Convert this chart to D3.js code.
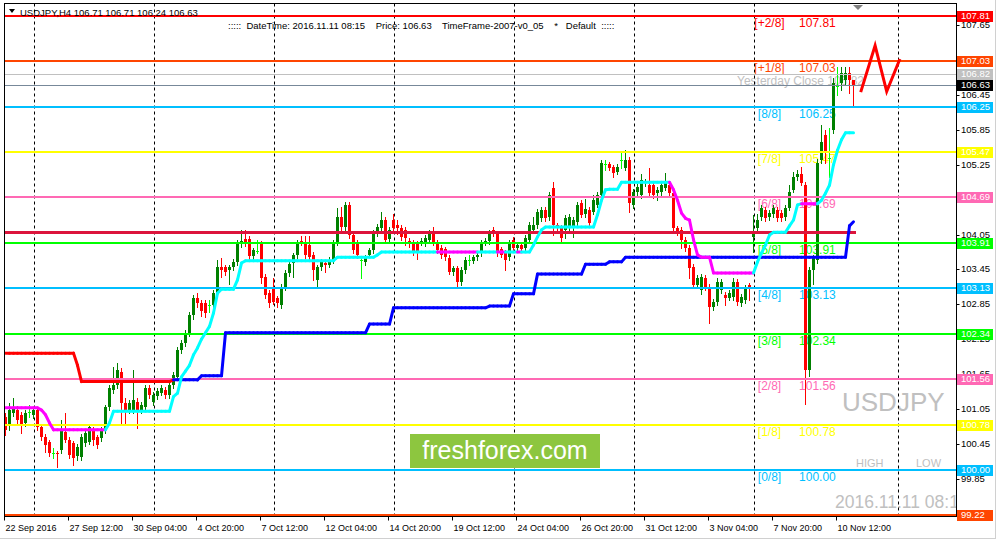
<!DOCTYPE html>
<html><head><meta charset="utf-8">
<script src="https://cdn.jsdelivr.net/npm/d3@7"></script>
<style>body{margin:0;background:#fff;} svg{display:block;font-family:"Liberation Sans",Arial,sans-serif;}</style>
</head><body><svg id="c" width="997" height="541"></svg>
<script>
// ---------- DATA ----------
const opens = [100.91,100.77,100.98,101.03,100.95,100.81,100.99,100.95,101.03,100.74,100.57,100.48,100.29,100.29,100.34,100.65,100.52,100.46,100.24,100.22,100.46,100.48,100.69,100.57,100.55,100.69,101.08,101.38,101.46,101.69,101.15,101.03,101.03,101.17,101.03,101.08,101.41,101.17,101.27,101.33,101.38,101.29,101.46,101.60,102.06,102.19,102.36,102.67,102.96,102.87,102.87,102.84,102.84,103.05,103.49,103.49,103.44,103.49,103.58,103.91,103.98,103.98,103.68,103.77,103.89,103.32,103.05,103.15,102.96,102.84,103.15,103.39,103.56,103.70,103.94,103.92,103.87,103.70,103.27,103.49,103.56,103.53,103.61,103.91,104.35,104.18,104.56,104.04,103.91,103.61,103.58,103.70,103.78,104.08,104.16,104.30,103.97,104.30,104.21,104.16,104.13,103.94,103.91,103.90,103.91,103.91,103.96,104.08,103.91,103.82,103.80,103.65,103.41,103.47,103.23,103.44,103.61,103.60,103.66,103.73,103.91,103.94,104.13,104.08,103.80,103.75,103.66,103.96,103.82,103.87,103.82,103.96,104.13,104.21,104.33,104.47,104.35,104.85,104.21,104.16,104.13,104.18,104.18,104.27,104.59,104.40,104.47,104.44,104.56,104.73,105.26,105.26,105.21,105.13,105.33,105.20,105.33,104.56,104.78,104.73,104.93,104.90,104.90,104.76,104.78,104.85,104.90,104.76,104.16,104.13,103.96,103.82,103.49,103.18,103.10,103.30,103.15,102.80,102.89,103.10,103.01,102.96,102.98,103.24,102.87,102.92,103.18,104.01,104.16,104.35,104.47,104.35,104.40,104.47,104.42,104.35,104.51,104.82,105.04,105.09,104.90,101.72,103.44,103.61,105.33,105.76,105.36,105.85,106.60,106.66,106.71,106.83,106.71];
const highs = [100.98,101.15,101.24,101.10,101.00,101.03,101.12,101.08,101.08,100.77,100.62,100.52,100.38,100.33,100.86,100.98,100.57,100.50,100.45,100.62,100.70,100.79,100.74,100.60,100.74,101.12,101.46,101.77,101.84,101.75,101.24,101.20,101.72,101.24,101.17,101.46,101.46,101.34,101.41,101.46,101.43,101.51,101.69,102.12,102.24,102.41,102.72,103.01,103.05,102.92,102.92,102.92,103.10,103.61,103.65,103.53,103.53,103.63,103.96,104.13,104.13,104.03,103.82,103.96,103.94,103.37,103.10,103.30,103.00,103.20,103.44,103.58,103.73,103.96,104.03,104.03,104.03,103.75,103.53,103.63,103.61,103.66,103.96,104.51,104.52,104.61,104.61,104.09,103.96,103.66,103.70,103.82,104.13,104.23,104.44,104.35,104.18,104.40,104.30,104.21,104.18,103.99,103.96,103.94,103.99,104.04,104.13,104.18,103.96,103.87,103.84,103.70,103.51,103.51,103.49,103.66,103.70,103.70,103.75,103.96,103.99,104.13,104.18,104.11,103.84,103.78,103.96,104.01,103.92,103.92,104.04,104.27,104.35,104.49,104.52,104.52,104.78,104.95,104.25,104.21,104.38,104.40,104.35,104.61,104.64,104.66,104.52,104.73,104.78,105.33,105.33,105.30,105.25,105.26,105.45,105.50,105.38,104.83,104.92,105.09,105.01,105.19,104.95,104.87,104.95,105.11,104.95,104.81,104.20,104.18,104.01,103.87,103.54,103.35,103.37,103.35,103.20,102.94,103.30,103.29,103.06,103.10,103.30,103.29,103.03,103.18,103.22,104.39,104.40,104.56,104.52,104.47,104.56,104.52,104.47,104.56,104.90,105.13,105.16,105.21,104.95,103.50,103.70,105.35,105.93,105.85,105.88,106.75,106.93,106.93,106.93,106.93,106.71];
const lows = [100.60,100.69,100.93,100.81,100.64,100.76,100.91,100.89,100.69,100.52,100.31,100.24,100.21,100.05,100.29,100.48,100.21,100.09,100.17,100.17,100.41,100.45,100.43,100.38,100.50,100.64,101.03,101.33,101.41,100.81,100.81,100.98,100.98,100.72,100.98,101.03,101.24,101.12,101.22,101.29,101.24,101.24,101.41,101.55,102.01,102.14,102.31,102.60,102.80,102.65,102.63,102.72,102.80,103.00,103.32,103.36,103.20,103.44,103.53,103.84,103.86,103.63,103.63,103.73,103.22,102.96,102.80,102.85,102.80,102.78,103.10,103.34,103.32,103.65,103.87,103.65,103.61,103.27,103.15,103.44,103.41,103.49,103.56,103.87,104.13,104.13,103.99,103.73,103.65,103.30,103.53,103.66,103.73,104.03,104.11,103.91,103.92,104.11,104.06,103.96,103.87,103.84,103.70,103.63,103.87,103.86,103.92,103.87,103.73,103.65,103.61,103.37,103.36,103.13,103.18,103.39,103.53,103.56,103.61,103.68,103.87,103.89,104.03,103.68,103.66,103.44,103.61,103.77,103.77,103.75,103.77,103.92,104.08,104.16,104.28,104.28,104.30,104.04,104.08,103.94,103.99,104.13,104.00,104.21,104.35,104.35,104.20,104.40,104.52,104.68,105.16,105.16,105.04,105.09,105.20,105.16,104.44,104.51,104.73,104.68,104.88,104.71,104.68,104.64,104.73,104.81,104.71,104.11,104.04,103.82,103.77,103.30,103.13,103.13,103.03,103.10,102.53,102.75,102.84,103.05,102.84,102.92,102.93,102.84,102.82,102.87,102.92,103.75,104.11,104.30,104.28,104.30,104.35,104.28,104.28,104.30,104.47,104.78,104.99,104.90,101.14,101.62,103.20,103.56,105.28,105.28,105.04,105.80,106.45,106.54,106.62,106.49,106.24];
const closes = [100.69,101.03,101.07,100.86,100.77,100.98,100.99,101.03,100.74,100.57,100.43,100.29,100.29,100.27,100.69,100.52,100.26,100.21,100.40,100.57,100.64,100.74,100.52,100.43,100.69,101.08,101.41,101.46,101.72,101.15,101.03,101.15,101.20,101.03,101.12,101.41,101.29,101.29,101.36,101.41,101.29,101.46,101.63,102.06,102.19,102.36,102.67,102.96,102.87,102.73,102.70,102.84,103.05,103.49,103.44,103.41,103.49,103.58,103.91,103.94,103.91,103.68,103.78,103.77,103.30,103.01,102.87,102.89,102.87,103.15,103.39,103.54,103.70,103.91,103.91,103.70,103.66,103.44,103.49,103.58,103.53,103.61,103.91,104.35,104.18,104.56,104.04,103.78,103.70,103.61,103.66,103.78,104.08,104.18,104.30,103.96,104.13,104.16,104.16,104.01,103.99,103.91,103.75,103.75,103.94,103.99,104.08,103.91,103.78,103.70,103.66,103.41,103.47,103.23,103.44,103.61,103.61,103.66,103.70,103.91,103.94,104.09,104.08,103.73,103.70,103.61,103.90,103.82,103.87,103.80,103.99,104.21,104.21,104.44,104.47,104.33,104.73,104.21,104.16,103.99,104.33,104.35,104.30,104.56,104.39,104.49,104.25,104.64,104.73,105.28,105.26,105.20,105.11,105.21,105.33,105.33,104.59,104.78,104.87,104.99,104.96,104.76,104.73,104.81,104.90,104.93,104.76,104.16,104.09,103.96,103.82,103.47,103.18,103.30,103.32,103.15,102.80,102.89,103.24,103.24,102.96,103.05,103.24,102.89,102.98,103.13,103.13,104.08,104.30,104.51,104.33,104.42,104.51,104.33,104.33,104.51,104.78,105.04,105.09,104.94,101.72,103.44,103.66,105.28,105.64,105.47,105.36,106.66,106.60,106.83,106.83,106.71,106.63];
// fast trailing line (cyan up / magenta down) and slow trailing line (blue up / red down)
const fastLine = [101.07,101.07,101.07,101.07,101.07,101.07,101.07,101.07,101.07,101.03,100.95,100.81,100.69,100.69,100.69,100.69,100.69,100.69,100.69,100.69,100.69,100.69,100.69,100.69,100.69,100.69,100.81,101.01,101.01,101.01,101.01,101.01,101.01,101.01,101.01,101.01,101.01,101.01,101.01,101.01,101.01,101.01,101.26,101.32,101.60,101.70,101.80,101.98,102.10,102.25,102.36,102.47,102.70,103.04,103.11,103.11,103.11,103.11,103.27,103.56,103.60,103.60,103.60,103.60,103.60,103.60,103.60,103.60,103.60,103.60,103.60,103.60,103.60,103.60,103.60,103.60,103.60,103.60,103.60,103.60,103.60,103.60,103.60,103.66,103.66,103.66,103.66,103.66,103.66,103.66,103.66,103.66,103.66,103.70,103.75,103.75,103.75,103.75,103.75,103.75,103.75,103.75,103.75,103.75,103.75,103.75,103.75,103.75,103.75,103.75,103.75,103.75,103.75,103.75,103.75,103.75,103.75,103.75,103.75,103.75,103.75,103.75,103.75,103.75,103.75,103.75,103.75,103.75,103.75,103.75,103.75,103.75,103.87,104.01,104.13,104.18,104.18,104.18,104.18,104.18,104.18,104.18,104.18,104.18,104.18,104.18,104.18,104.18,104.39,104.64,104.82,104.83,104.83,104.83,104.95,104.95,104.95,104.95,104.95,104.95,104.95,104.95,104.95,104.95,104.95,104.95,104.95,104.82,104.64,104.42,104.33,104.30,103.96,103.70,103.66,103.66,103.66,103.39,103.39,103.39,103.39,103.39,103.39,103.39,103.39,103.39,103.39,103.39,103.58,103.73,103.87,104.04,104.09,104.09,104.09,104.09,104.20,104.30,104.56,104.58,104.58,104.58,104.58,104.58,104.64,104.76,104.90,105.25,105.50,105.68,105.80,105.80,105.80];
const fastTrend = "dddddddddddddddddddddddddd" + "u".repeat(83) + "dddddddddd" + "uuuuu" + "dd" + "uuu" + "d" + "u".repeat(37) + "d".repeat(21) + "u".repeat(12) + "dddd" + "u".repeat(9);
const slowLine = [102.01,102.01,102.01,102.01,102.01,102.01,102.01,102.01,102.01,102.01,102.01,102.01,102.01,102.01,102.01,102.01,102.01,102.01,101.80,101.52,101.52,101.52,101.52,101.52,101.52,101.52,101.52,101.52,101.52,101.52,101.52,101.52,101.52,101.52,101.52,101.52,101.52,101.52,101.52,101.52,101.52,101.52,101.55,101.55,101.55,101.55,101.55,101.55,101.55,101.62,101.62,101.62,101.62,101.62,101.62,102.36,102.36,102.36,102.36,102.36,102.36,102.36,102.36,102.36,102.36,102.36,102.36,102.36,102.36,102.36,102.36,102.36,102.36,102.36,102.36,102.36,102.36,102.36,102.36,102.36,102.36,102.36,102.36,102.36,102.36,102.36,102.36,102.36,102.36,102.36,102.36,102.51,102.51,102.51,102.51,102.51,102.51,102.79,102.79,102.79,102.79,102.79,102.79,102.79,102.79,102.79,102.79,102.79,102.79,102.79,102.79,102.79,102.79,102.79,102.79,102.79,102.79,102.79,102.79,102.79,102.79,102.82,102.82,102.82,102.82,102.82,102.82,103.03,103.03,103.03,103.03,103.03,103.03,103.37,103.37,103.37,103.37,103.37,103.37,103.37,103.37,103.37,103.37,103.37,103.37,103.54,103.54,103.54,103.54,103.54,103.54,103.58,103.58,103.58,103.58,103.66,103.66,103.66,103.66,103.66,103.66,103.66,103.66,103.66,103.66,103.66,103.66,103.66,103.66,103.66,103.66,103.66,103.66,103.66,103.66,103.66,103.66,103.66,103.66,103.66,103.66,103.66,103.66,103.66,103.66,103.66,103.66,103.66,103.66,103.66,103.66,103.66,103.66,103.66,103.66,103.66,103.66,103.66,103.66,103.66,103.66,103.66,103.66,103.66,103.66,103.66,103.66,103.66,103.66,103.66,103.66,104.20,104.27];
const slowTrend = "d".repeat(43) + "u".repeat(170);
const pivotLevel = 104.09;
const yesterdayClose = 106.82;
const bidPrice = 106.63;
const murreyLevels = [107.81,107.03,106.25,105.47,104.69,103.91,103.13,102.34,101.56,100.78,100.00,99.22];
const murreyNames = ["[+2/8]","[+1/8]","[8/8]","[7/8]","[6/8]","[5/8]","[4/8]","[3/8]","[2/8]","[1/8]","[0/8]","[-1/8]"];
const murreyColors = ["#FF0000","#FF4500","#00BFFF","#FFFF00","#FF69B4","#00FF00","#00BFFF","#00FF00","#FF69B4","#FFFF00","#00BFFF","#FF4500"];
const yTicks = [107.65,107.05,106.45,105.85,105.25,104.65,104.05,103.45,102.85,102.25,101.65,101.05,100.45,99.85];
const xLabelBars = [0,16,32,48,64,80,96,112,128,144,160,176,192,208];
const xLabels = ["22 Sep 2016","27 Sep 12:00","30 Sep 04:00","4 Oct 20:00","7 Oct 12:00","12 Oct 04:00","14 Oct 20:00","19 Oct 12:00","24 Oct 04:00","26 Oct 20:00","31 Oct 12:00","3 Nov 04:00","7 Nov 20:00","10 Nov 12:00"];
const gridBars = [7,37,67,97,127,157,187,223];
const logoZigzag = [[213.8,106.50],[217.4,107.30],[220.3,106.51],[223.6,107.07]];

// ---------- LAYOUT ----------
const svg = d3.select("#c");
const L = 4.5, R = 956.5, T = 3.5, B = 516.5;
const x = d3.scaleLinear().domain([0, 237]).range([5.5, 953.5]);
const y = d3.scaleLinear().domain([99.22, 107.81]).range([515.3, 16]);
const ry = v => Math.round(y(v));

svg.append("rect").attr("width",997).attr("height",541).attr("fill","#fff");
svg.append("line").attr("x1",995.5).attr("x2",995.5).attr("y1",0).attr("y2",539).attr("stroke","#D0D0D0");
svg.append("line").attr("x1",0).attr("x2",996).attr("y1",538.5).attr("y2",538.5).attr("stroke","#D0D0D0");
svg.append("defs").append("clipPath").attr("id","clip").append("rect")
  .attr("x",L+0.5).attr("y",T+0.5).attr("width",R-L-1).attr("height",B-T-1);
const plot = svg.append("g").attr("clip-path","url(#clip)");

// murrey texts (behind candles)
const mt = plot.append("g").attr("font-size",12);
murreyLevels.forEach((v,k)=>{
  mt.append("text").attr("x",x(191)).attr("y",ry(v)+8).attr("text-anchor","middle")
    .attr("dominant-baseline","middle").attr("fill",murreyColors[k]).text(murreyNames[k]);
  mt.append("text").attr("x",x(198.4)).attr("y",ry(v)+8)
    .attr("dominant-baseline","middle").attr("fill",murreyColors[k]).text(v.toFixed(2));
});
plot.append("text").attr("x",737).attr("y",ry(yesterdayClose)+8).attr("font-size",12)
  .attr("dominant-baseline","middle").attr("fill","#C0C0C0").text("Yesterday Close "+yesterdayClose.toFixed(2));
plot.append("text").attr("x",842).attr("y",411).attr("font-size",26).attr("fill","#C0C0C0").text("USDJPY");
plot.append("text").attr("x",856).attr("y",467).attr("font-size",11).attr("fill","#C0C0C0").text("HIGH");
plot.append("text").attr("x",916).attr("y",467).attr("font-size",11).attr("fill","#C0C0C0").text("LOW");
plot.append("text").attr("x",835).attr("y",508).attr("font-size",17.5).attr("fill","#C0C0C0").text("2016.11.11 08:15");

// grid
plot.selectAll(".grid").data(gridBars).join("line")
  .attr("x1",d=>Math.round(x(d))+0.5).attr("x2",d=>Math.round(x(d))+0.5)
  .attr("y1",T).attr("y2",B).attr("stroke","#000").attr("stroke-dasharray","3,3");

// candles
const bars = d3.range(closes.length).map(i=>({i,o:opens[i],h:highs[i],l:lows[i],c:closes[i]}));
const col = d => d.c>d.o ? "#008000" : (d.c<d.o ? "#FF0000" : "#00FF00");
const cg = plot.append("g").attr("shape-rendering","crispEdges");
cg.selectAll("line.w").data(bars).join("line").attr("class","w")
  .attr("x1",d=>Math.floor(x(d.i))+0.5).attr("x2",d=>Math.floor(x(d.i))+0.5)
  .attr("y1",d=>ry(d.h)).attr("y2",d=>ry(d.l)+1).attr("stroke",col);
cg.selectAll("rect.b").data(bars).join("rect").attr("class","b")
  .attr("x",d=>Math.floor(x(d.i))-1).attr("width",3)
  .attr("y",d=>Math.min(ry(d.o),ry(d.c)))
  .attr("height",d=>Math.max(1,Math.abs(ry(d.o)-ry(d.c))))
  .attr("fill",col);

// level lines
const lg = plot.append("g").attr("shape-rendering","crispEdges");
murreyLevels.forEach((v,k)=>{
  lg.append("line").attr("x1",L).attr("x2",R).attr("y1",ry(v)).attr("y2",ry(v))
    .attr("stroke",murreyColors[k]).attr("stroke-width",2);
});
lg.append("line").attr("x1",L).attr("x2",R).attr("y1",ry(yesterdayClose)+0.5).attr("y2",ry(yesterdayClose)+0.5)
  .attr("stroke","#C0C0C0");
lg.append("line").attr("x1",L).attr("x2",R).attr("y1",ry(bidPrice)+0.5).attr("y2",ry(bidPrice)+0.5)
  .attr("stroke","#778899");
lg.append("line").attr("x1",L).attr("x2",x(closes.length-1)+2).attr("y1",y(pivotLevel)).attr("y2",y(pivotLevel))
  .attr("stroke","#DC143C").attr("stroke-width",3);

// indicator lines, coloured by segment
function seg(vals, trend, cu, cd){
  for(let i=1;i<vals.length;i++){
    plot.append("line").attr("x1",x(i-1)).attr("x2",x(i)).attr("y1",y(vals[i-1])).attr("y2",y(vals[i]))
      .attr("stroke",trend[i]==="u"?cu:cd).attr("stroke-width",3).attr("stroke-linecap","round");
  }
}
seg(slowLine, slowTrend, "#0000FF", "#FF0000");
seg(fastLine, fastTrend, "#00FFFF", "#FF00FF");

// logo zigzag
plot.append("path").attr("d",d3.line().x(d=>x(d[0])).y(d=>y(d[1]))(logoZigzag))
  .attr("fill","none").attr("stroke","#FF0000").attr("stroke-width",3);

// watermark box
plot.append("rect").attr("x",410).attr("y",434).attr("width",190).attr("height",34).attr("fill","#8DC63F");
plot.append("text").attr("x",505).attr("y",452).attr("text-anchor","middle").attr("dominant-baseline","middle")
  .attr("font-size",25).attr("fill","#fff").text("freshforex.com");

// header
svg.append("path").attr("d","M9,9 L15,9 L12,13 Z").attr("fill","#000");
svg.append("text").attr("x",20).attr("y",16).attr("font-size",9.5).attr("fill","#000")
  .text("USDJPY,H4  "+[opens[212],highs[212],lows[212],closes[212]].map(v=>v.toFixed(2)).join(" "));
svg.append("text").attr("x",228).attr("y",29).attr("font-size",9.5).attr("fill","#000").attr("xml:space","preserve")
  .text(":::::  DateTime: 2016.11.11 08:15    Price: "+closes[212].toFixed(2)+"    TimeFrame-2007-v0_05    *   Default  :::::");
svg.append("path").attr("d","M853,5 L863,5 L858,10 Z").attr("fill","#808080");

// frame
svg.append("rect").attr("x",L).attr("y",T).attr("width",R-L).attr("height",B-T)
  .attr("fill","none").attr("stroke","#000").attr("shape-rendering","crispEdges");

// y axis
const ya = svg.append("g").attr("font-size",9.5);
yTicks.forEach(v=>{
  ya.append("line").attr("x1",R).attr("x2",R+3).attr("y1",ry(v)+0.5).attr("y2",ry(v)+0.5).attr("stroke","#000");
  ya.append("text").attr("x",961).attr("y",ry(v)+0.5).attr("dominant-baseline","middle").attr("fill","#000").text(v.toFixed(2));
});
const boxes = murreyLevels.map((v,k)=>({v,c:murreyColors[k]})).concat([{v:yesterdayClose,c:"#C0C0C0"},{v:bidPrice,c:"#000"}]);
boxes.forEach(b=>{
  ya.append("rect").attr("x",957).attr("y",ry(b.v)-5).attr("width",36).attr("height",11).attr("fill",b.c);
  ya.append("text").attr("x",961).attr("y",ry(b.v)+0.5).attr("dominant-baseline","middle").attr("fill","#fff").text(b.v.toFixed(2));
});

// x axis
const xa = svg.append("g").attr("font-size",9);
xLabelBars.forEach((b,k)=>{
  const px = Math.floor(x(b))-0.5;
  xa.append("line").attr("x1",px).attr("x2",px).attr("y1",B).attr("y2",B+4).attr("stroke","#000");
  xa.append("text").attr("x",px+1).attr("y",531).attr("fill","#000").text(xLabels[k]);
});
</script></body></html>
